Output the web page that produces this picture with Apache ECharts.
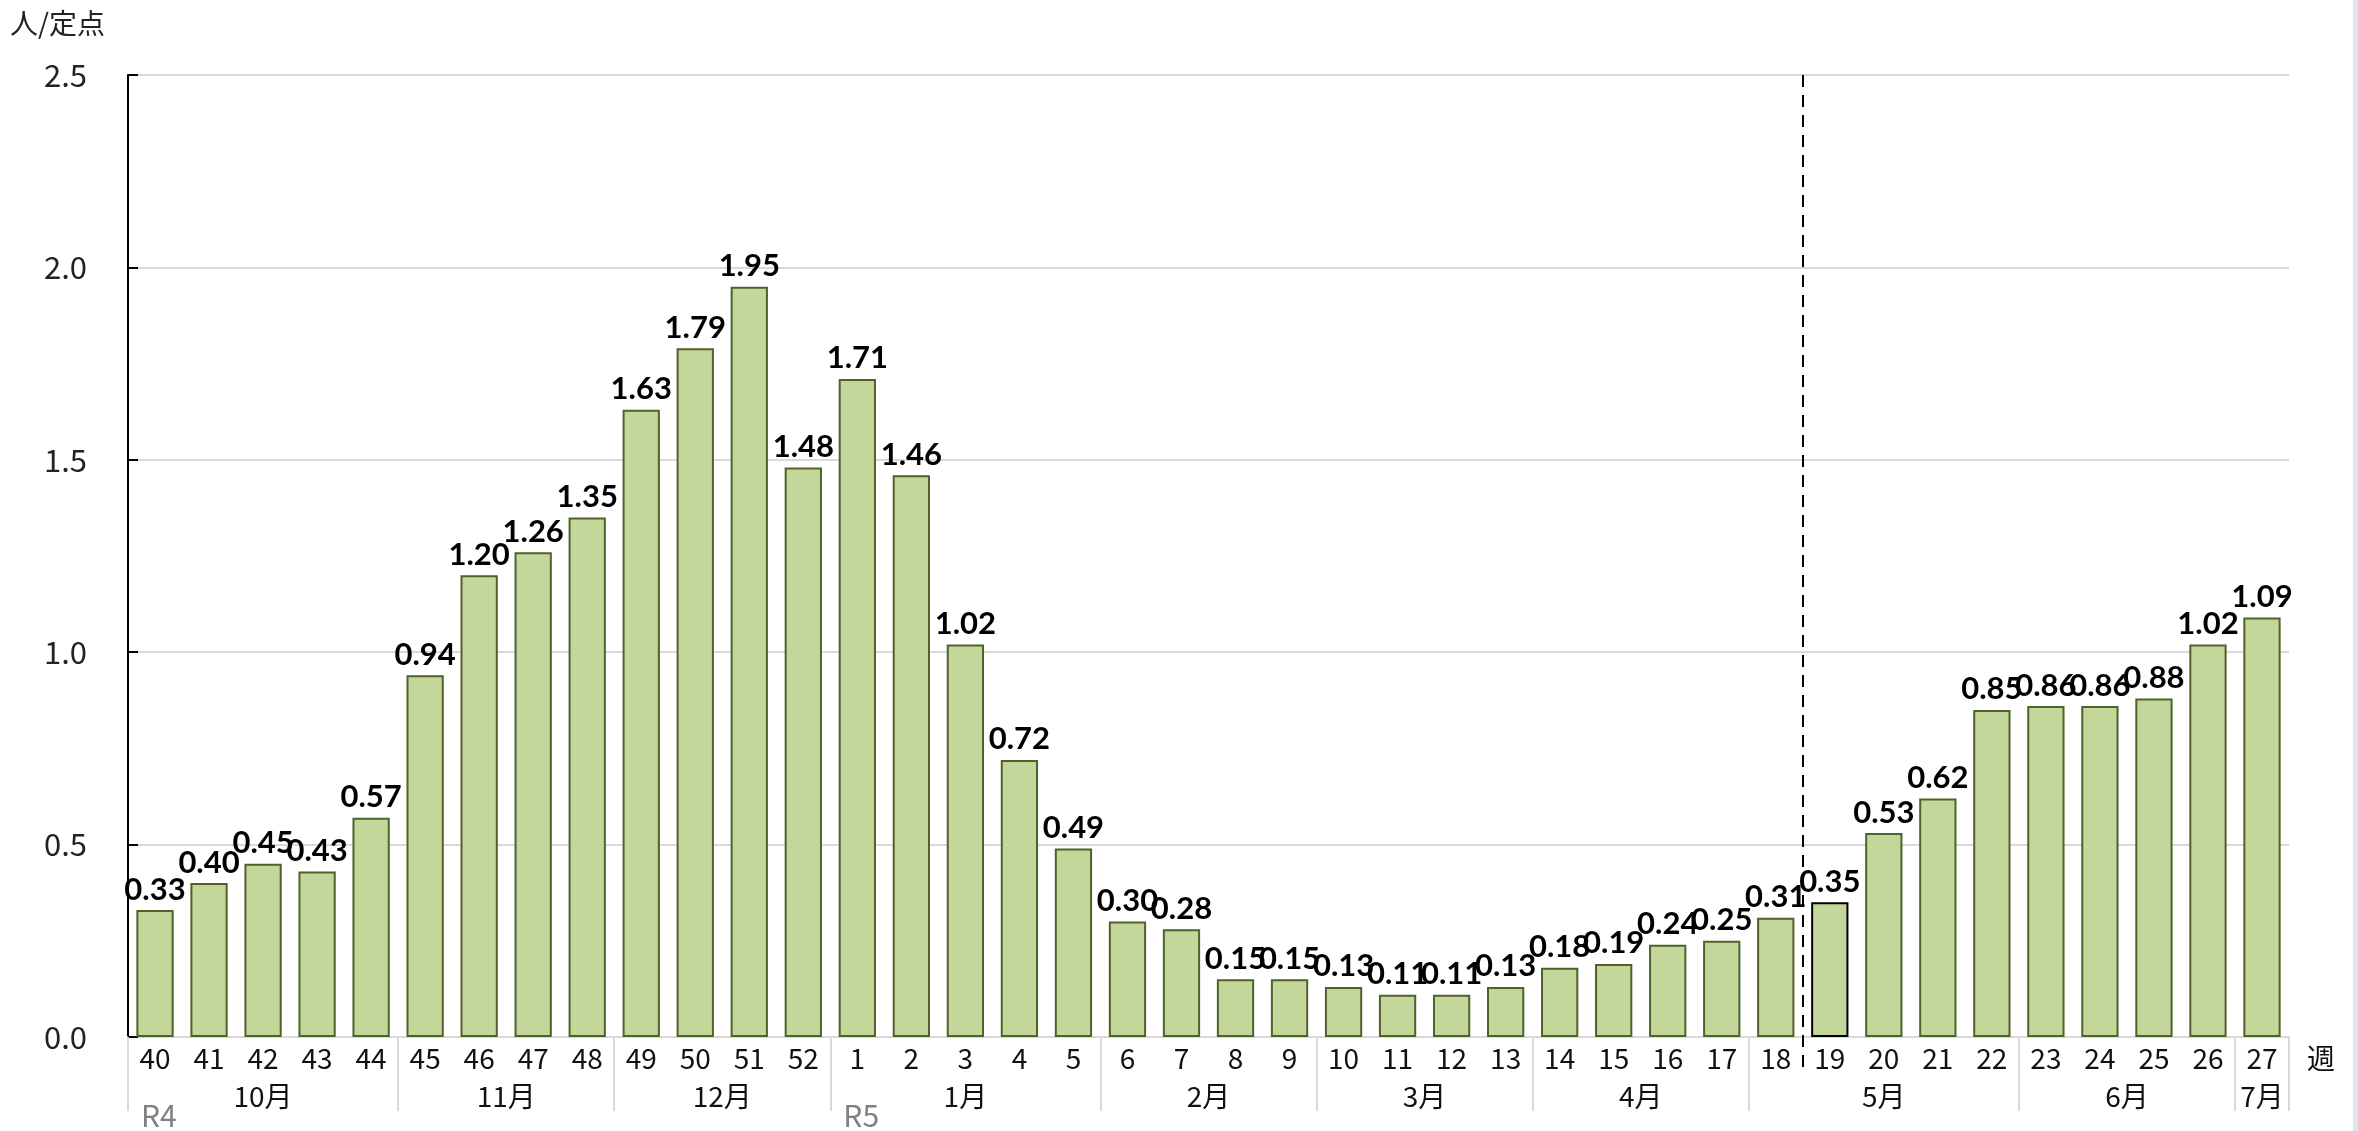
<!DOCTYPE html>
<html>
<head>
<meta charset="utf-8">
<script src="https://cdn.jsdelivr.net/npm/echarts@6/dist/echarts.min.js"></script>
<style>
html,body{margin:0;padding:0;background:#fff;}
#c{width:2358px;height:1131px;}
</style>
</head>
<body>
<div id="c"></div>
<script>
// Data
var weeks = ['40','41','42','43','44','45','46','47','48','49','50','51','52',
  '1','2','3','4','5','6','7','8','9','10','11','12','13','14','15','16','17','18',
  '19','20','21','22','23','24','25','26','27'];
var values = [0.33,0.40,0.45,0.43,0.57,0.94,1.20,1.26,1.35,1.63,1.79,1.95,1.48,
  1.71,1.46,1.02,0.72,0.49,0.30,0.28,0.15,0.15,0.13,0.11,0.11,0.13,0.18,0.19,0.24,0.25,0.31,
  0.35,0.53,0.62,0.85,0.86,0.86,0.88,1.02,1.09];
var months = ['10月','11月','12月','1月','2月','3月','4月','5月','6月','7月'];
var monthSpans = [5,4,4,5,4,4,4,5,4,1];
var eras = ['R4','R5'];
var eraStarts = [0,13];
var highlightWeek = '19';

var bounds = [0], centers = [];
monthSpans.forEach(function(s){
  var a = bounds[bounds.length-1];
  centers.push(a + s/2);
  bounds.push(a + s);
});
var dividerIndex = weeks.indexOf(highlightWeek);

var fontJP = '"Noto Sans CJK JP", "Noto Sans", sans-serif';

var chart = echarts.init(document.getElementById('c'), null, {renderer:'canvas'});
var option = {
  animation:false,
  backgroundColor:'#fff',
  grid:{left:128, right:69, top:75, bottom:87, containLabel:false},
  xAxis:[{
    type:'category', data:weeks, boundaryGap:true,
    axisLine:{show:true, lineStyle:{color:'#D9D9D9', width:2}},
    axisTick:{show:false},
    axisLabel:{interval:0, margin:7, fontFamily:fontJP, fontSize:28, color:'#111'},
    name:'週', nameLocation:'end', nameGap:18,
    nameTextStyle:{fontFamily:fontJP, fontSize:28, color:'#111', verticalAlign:'top', padding:[7,0,0,0]}
  },{
    type:'value', min:0, max:weeks.length, position:'bottom',
    axisLine:{show:false}, splitLine:{show:false},
    axisTick:{show:true, inside:false, length:74, customValues:bounds, lineStyle:{color:'#D9D9D9', width:2}},
    axisLabel:{show:true, customValues:centers, margin:45, fontFamily:fontJP, fontSize:28, color:'#111',
      formatter:function(v){ var i = centers.indexOf(v); return i>=0 ? months[i] : ''; }}
  },{
    type:'value', min:0, max:weeks.length, position:'bottom',
    axisLine:{show:false}, splitLine:{show:false}, axisTick:{show:false},
    axisLabel:{show:true, customValues:eraStarts, margin:64, align:'left', padding:[0,0,0,13],
      fontFamily:fontJP, fontSize:30, color:'#808080',
      formatter:function(v){ var i = eraStarts.indexOf(v); return i>=0 ? eras[i] : ''; }}
  }],
  yAxis:{
    type:'value', min:0, max:2.5, interval:0.5,
    axisLine:{show:true, lineStyle:{color:'#000', width:2}},
    axisTick:{show:true, inside:true, length:10, lineStyle:{color:'#000', width:2}},
    splitLine:{show:true, lineStyle:{color:'#D9D9D9', width:2}},
    axisLabel:{margin:41, fontFamily:fontJP, fontSize:31, color:'#222',
      formatter:function(v){ return v.toFixed(1); }},
    name:'人/定点', nameLocation:'end', nameGap:38,
    nameTextStyle:{fontFamily:fontJP, fontSize:28, color:'#222', align:'right', padding:[0,23,0,0]}
  },
  series:[{
    type:'bar', xAxisIndex:0, yAxisIndex:0,
    barCategoryGap:'31%',
    data: values.map(function(v,i){
      var d = {value:v};
      if (weeks[i] === highlightWeek) d.itemStyle = {borderColor:'#000'};
      return d;
    }),
    itemStyle:{color:'#C4D79B', borderColor:'#4F6228', borderWidth:2},
    label:{show:true, position:'top', distance:5, fontFamily:'Lato, "Liberation Sans", sans-serif',
      fontWeight:'bold', fontSize:31, color:'#000',
      formatter:function(p){ return p.value.toFixed(2); }}
  }],
  graphic:[{
    type:'rect', shape:{x:2353, y:0, width:5, height:1131}, style:{fill:'#DCE6F2'}, silent:true
  }]
};
chart.setOption(option);

// dashed divider between weeks 18 and 19, positioned through the axes' scales
var dx = chart.convertToPixel({xAxisIndex:1}, dividerIndex);
var dyTop = chart.convertToPixel({yAxisIndex:0}, 2.5);
var dyBot = chart.convertToPixel({yAxisIndex:0}, 0) + 32;
chart.setOption({
  graphic:[{
    type:'rect', shape:{x:2353, y:0, width:5, height:1131}, style:{fill:'#DCE6F2'}, silent:true
  },{
    type:'line', silent:true, z:10,
    shape:{x1:Math.round(dx), y1:dyTop, x2:Math.round(dx), y2:dyBot},
    style:{stroke:'#000', lineWidth:2, lineDash:[12,8]}
  }]
});
</script>
</body>
</html>
